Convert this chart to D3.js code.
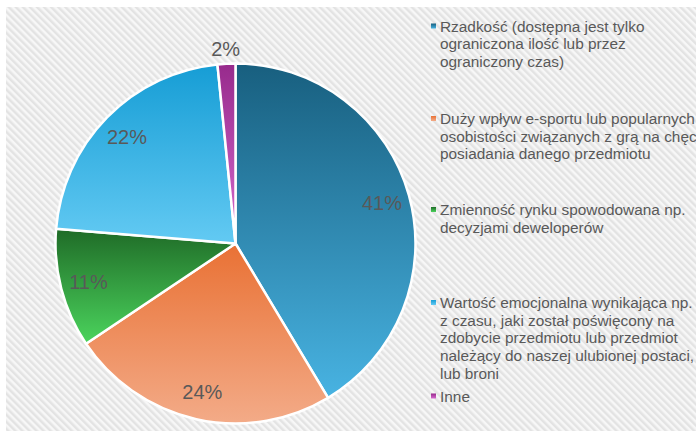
<!DOCTYPE html>
<html>
<head>
<meta charset="utf-8">
<script src="https://cdn.jsdelivr.net/npm/d3@7"></script>
<style>
  body { margin: 0; background: #fff; }
  text { font-family: "Liberation Sans", Arial, sans-serif; }
</style>
</head>
<body>
<div id="container"></div>
<script>
let width = 696;
let height = 431;

// data
let categories = [
    ["Rzadkość (dostępna jest tylko", "ograniczona ilość lub przez", "ograniczony czas)"],
    ["Duży wpływ e-sportu lub popularnych", "osobistości związanych z grą na chęci", "posiadania danego przedmiotu"],
    ["Zmienność rynku spowodowana np.", "decyzjami deweloperów"],
    ["Wartość emocjonalna wynikająca np.", "z czasu, jaki został poświęcony na", "zdobycie przedmiotu lub przedmiot", "należący do naszej ulubionej postaci,", "lub broni"],
    ["Inne"]
];
let values = [41.4, 24.2, 10.7, 22.1, 1.6];
let topColors = ["#185f7f", "#e97134", "#1f6b27", "#169dd5", "#972a8c"];
let bottomColors = ["#48b3e2", "#f3ab88", "#4bd45d", "#63caf3", "#d66bce"];

// layout
let cx = 235.5, cy = 243.5, radius = 180;
let legendX = 431;
let legendBaselines = [31.5, 124, 215, 308, 401.5];
let lineHeight = 17.7;

let svg = d3.select("#container")
    .append("svg")
    .attr("width", width)
    .attr("height", height);

let defs = svg.append("defs");

// striped background
let pattern = defs.append("pattern")
    .attr("id", "stripes")
    .attr("width", 5)
    .attr("height", 5)
    .attr("patternUnits", "userSpaceOnUse")
    .attr("patternTransform", "rotate(-45)");
pattern.append("rect").attr("width", 5).attr("height", 5).attr("fill", "#f7f7f7");
pattern.append("rect").attr("width", 2.5).attr("height", 5).attr("fill", "#e3e3e3");

svg.append("rect")
    .attr("x", 6)
    .attr("y", 7)
    .attr("width", width - 6)
    .attr("height", height - 7)
    .attr("fill", "url(#stripes)");

values.forEach((d, i) => {
    let g = defs.append("linearGradient")
        .attr("id", "grad" + i)
        .attr("x1", 0).attr("y1", 0)
        .attr("x2", 0).attr("y2", 1);
    g.append("stop").attr("offset", "0%").attr("stop-color", topColors[i]);
    g.append("stop").attr("offset", "100%").attr("stop-color", bottomColors[i]);
});

let pie = d3.pie().sort(null).value(d => d);
let arcs = pie(values);

let arc = d3.arc().innerRadius(0).outerRadius(radius);
let labelArc = d3.arc().innerRadius(152).outerRadius(152);
let outerLabelArc = d3.arc().innerRadius(195).outerRadius(195);

let chart = svg.append("g")
    .attr("transform", "translate(" + cx + "," + cy + ")");

chart.selectAll(".slice")
    .data(arcs)
    .enter()
    .append("path")
    .attr("class", "slice")
    .attr("d", arc)
    .attr("fill", (d, i) => "url(#grad" + i + ")")
    .attr("stroke", "#ffffff")
    .attr("stroke-width", 2.5)
    .attr("stroke-linejoin", "round");

chart.selectAll(".label")
    .data(arcs)
    .enter()
    .append("text")
    .attr("class", "label")
    .attr("transform", d => {
        let c = (d.data < 5 ? outerLabelArc : labelArc).centroid(d);
        return "translate(" + c[0] + "," + c[1] + ")";
    })
    .attr("text-anchor", "middle")
    .attr("dy", "0.36em")
    .attr("font-size", 20)
    .attr("fill", "#595959")
    .text(d => Math.round(d.data) + "%");

// legend
let legend = svg.selectAll(".legendItem")
    .data(categories)
    .enter()
    .append("g")
    .attr("class", "legendItem");

legend.append("rect")
    .attr("x", legendX)
    .attr("y", (d, i) => legendBaselines[i] - 8)
    .attr("width", 5)
    .attr("height", 5)
    .attr("fill", (d, i) => "url(#grad" + i + ")");

legend.append("text")
    .attr("font-size", 15.4)
    .attr("fill", "#595959")
    .each(function (lines, i) {
        d3.select(this).selectAll("tspan")
            .data(lines)
            .enter()
            .append("tspan")
            .attr("x", legendX + 9)
            .attr("y", (l, j) => legendBaselines[i] + j * lineHeight)
            .text(l => l);
    });
</script>
</body>
</html>
